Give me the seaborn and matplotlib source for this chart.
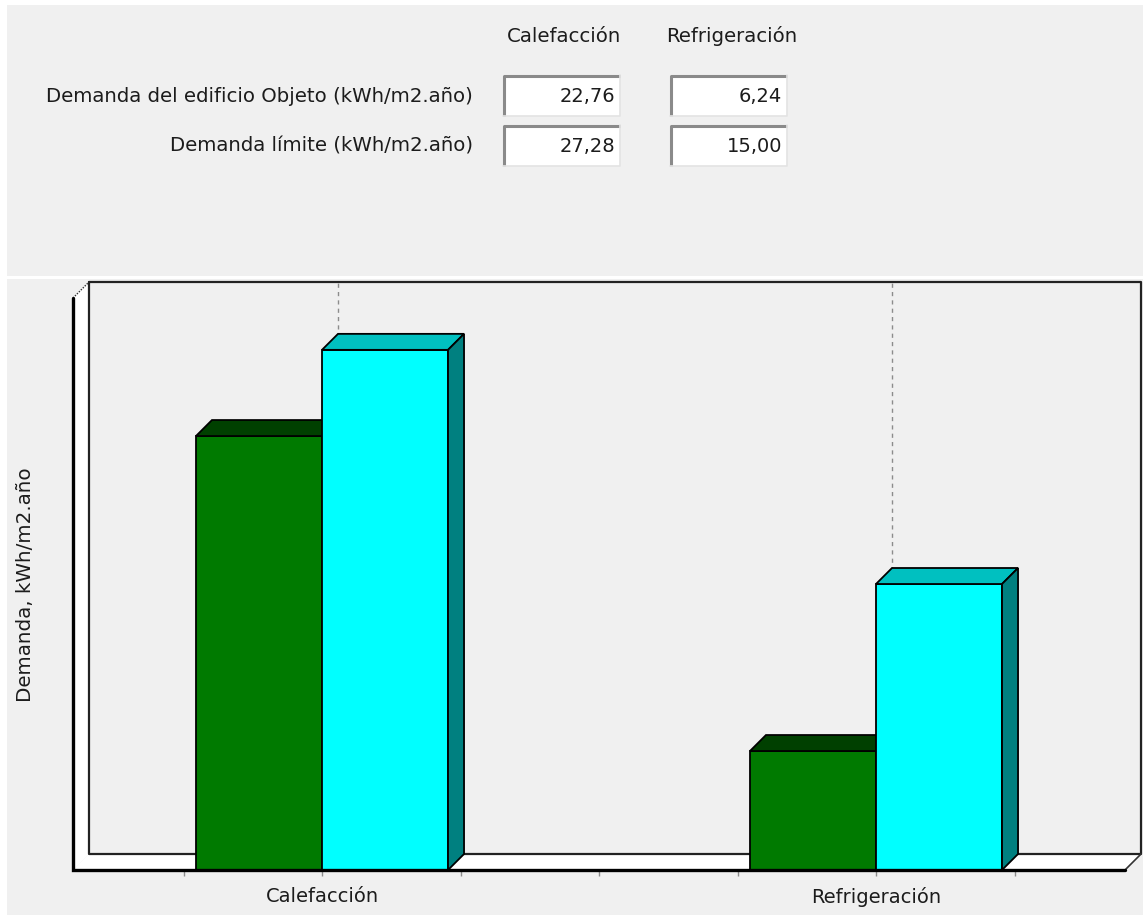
import pandas as pd
import seaborn as sns
import matplotlib.pyplot as plt
from matplotlib.patches import Polygon, Rectangle

# Datos del informe de demanda
categorias = ['Calefacción', 'Refrigeración']
series = ['Demanda del edificio Objeto', 'Demanda límite']
demanda_objeto = [22.76, 6.24]
demanda_limite = [27.28, 15.00]
etiquetas_filas = ['Demanda del edificio Objeto (kWh/m2.año)', 'Demanda límite (kWh/m2.año)']
etiqueta_y = 'Demanda, kWh/m2.año'
y_max = 30

colores_frente = ['#007a00', '#00ffff']
colores_arriba = ['#004000', '#00c0c0']
colores_lado = ['#003c00', '#008080']

df = pd.DataFrame({
    'categoria': categorias * 2,
    'serie': [series[0]] * 2 + [series[1]] * 2,
    'valor': demanda_objeto + demanda_limite,
})

sns.set_style('white')
plt.rcParams['font.family'] = ['DejaVu Sans']
color_texto = '#1c1c1c'

W, H = 1143, 915
fig = plt.figure(figsize=(W / 100, H / 100), dpi=100, facecolor='white')

# Fondo en coordenadas de pixel
bg = fig.add_axes([0, 0, 1, 1])
bg.set_xlim(0, W)
bg.set_ylim(H, 0)
bg.axis('off')
bg.add_patch(Rectangle((7, 5), W - 7, 271, facecolor='#f0f0f0', edgecolor='none'))
bg.add_patch(Rectangle((7, 279), W - 7, H - 279, facecolor='#f0f0f0', edgecolor='none'))

# Tabla superior
col_x = [(503, 620), (670, 787)]
fila_y = [(75, 116), (125, 166)]
valores = [demanda_objeto, demanda_limite]
for j, cat in enumerate(categorias):
    bg.text((col_x[j][0] + col_x[j][1]) / 2 + 3, 36, cat, ha='center', va='center',
            fontsize=14.2, color=color_texto)
for i, etiqueta in enumerate(etiquetas_filas):
    y0, y1 = fila_y[i]
    bg.text(473, (y0 + y1) / 2 + 1, etiqueta, ha='right', va='center',
            fontsize=14.2, color=color_texto)
    for j in range(len(categorias)):
        x0, x1 = col_x[j]
        bg.add_patch(Rectangle((x0, y0), x1 - x0, y1 - y0, facecolor='white', edgecolor='none'))
        bg.plot([x0 + 1, x0 + 1, x1], [y1, y0 + 1, y0 + 1], color='#8a8a8a', lw=2.2, solid_capstyle='butt')
        bg.plot([x0, x1, x1], [y1, y1, y0], color='#e3e3e3', lw=1.2)
        txt = f'{valores[i][j]:.2f}'.replace('.', ',')
        bg.text(x1 - 5, (y0 + y1) / 2 + 1, txt, ha='right', va='center', fontsize=14, color=color_texto)

bg.text(26, 585, etiqueta_y, rotation=90, ha='center', va='center', fontsize=14.3, color=color_texto)

# Grafico con efecto 3D
px_izq, px_der, px_base, px_tope = 73, 1141, 870, 282
prof = 16
px_cat = 554
ax = fig.add_axes([px_izq / W, 1 - px_base / H, (px_der - px_izq) / W, (px_base - px_tope) / H])
ax.set_facecolor('none')

sns.barplot(data=df, x='categoria', y='valor', hue='serie', palette=colores_frente,
            saturation=1, width=0.455, edgecolor='black', linewidth=1.3,
            errorbar=None, legend=False, ax=ax)

px_y = (px_base - px_tope - prof) / y_max
dx = prof / px_cat
dy = prof / px_y
frente = (px_der - px_izq - prof) / px_cat
x_lo = 0.5 - frente / 2
x_hf = 0.5 + frente / 2
ax.set_xlim(x_lo, x_hf + dx)
ax.set_ylim(0, y_max + dy)

# Paredes y suelo
ax.add_patch(Polygon([(x_lo, 0), (x_lo, y_max), (x_lo + dx, y_max + dy), (x_lo + dx, dy)],
                     facecolor='white', edgecolor='none', zorder=1))
ax.add_patch(Polygon([(x_lo, 0), (x_hf, 0), (x_hf + dx, dy), (x_lo + dx, dy)],
                     facecolor='white', edgecolor='none', zorder=1))
ax.plot([x_lo + dx, x_lo + dx, x_hf + dx, x_hf + dx, x_lo + dx],
        [y_max + dy, dy, dy, y_max + dy, y_max + dy],
        color='#222222', lw=1.6, zorder=1.5, clip_on=False)
ax.plot([x_lo, x_lo + dx], [y_max, y_max + dy], color='#333333', lw=1, ls=(0, (1, 1)), zorder=1.5, clip_on=False)
ax.plot([x_hf, x_hf + dx], [0, dy], color='#333333', lw=1.2, zorder=1.5, clip_on=False)
for c in range(len(categorias)):
    ax.plot([c + dx, c + dx], [dy, y_max + dy], color='#8c8c8c', lw=1, ls=(0, (3, 3)), zorder=1.2)

# Caras superior y lateral de cada barra
for i, cont in enumerate(ax.containers):
    for p in cont:
        p.set_zorder(3 + i)
        x0, w, h = p.get_x(), p.get_width(), p.get_height()
        x1 = x0 + w
        ax.add_patch(Polygon([(x0, h), (x0 + dx, h + dy), (x1 + dx, h + dy), (x1, h)],
                             facecolor=colores_arriba[i], edgecolor='black', lw=1.3, zorder=3 + i))
        ax.add_patch(Polygon([(x1, 0), (x1 + dx, dy), (x1 + dx, h + dy), (x1, h)],
                             facecolor=colores_lado[i], edgecolor='black', lw=1.3, zorder=3 + i))

ax.plot([x_lo, x_lo, x_hf], [y_max, 0, 0], color='black', lw=2.4, zorder=6,
        clip_on=False, solid_joinstyle='miter')

for s in ax.spines.values():
    s.set_visible(False)
ax.set_xticks(range(len(categorias)))
ax.set_xticklabels(categorias)
ax.set_xticks([-0.25, 0.25, 0.5, 0.75, 1.25], minor=True)
ax.set_yticks([])
ax.tick_params(axis='x', which='both', bottom=True, direction='out', length=4,
               width=1, color='#8c8c8c', labelsize=14, labelcolor=color_texto, pad=8.5)
ax.set_xlabel('')
ax.set_ylabel('')

fig.savefig('out.png', dpi=100)
